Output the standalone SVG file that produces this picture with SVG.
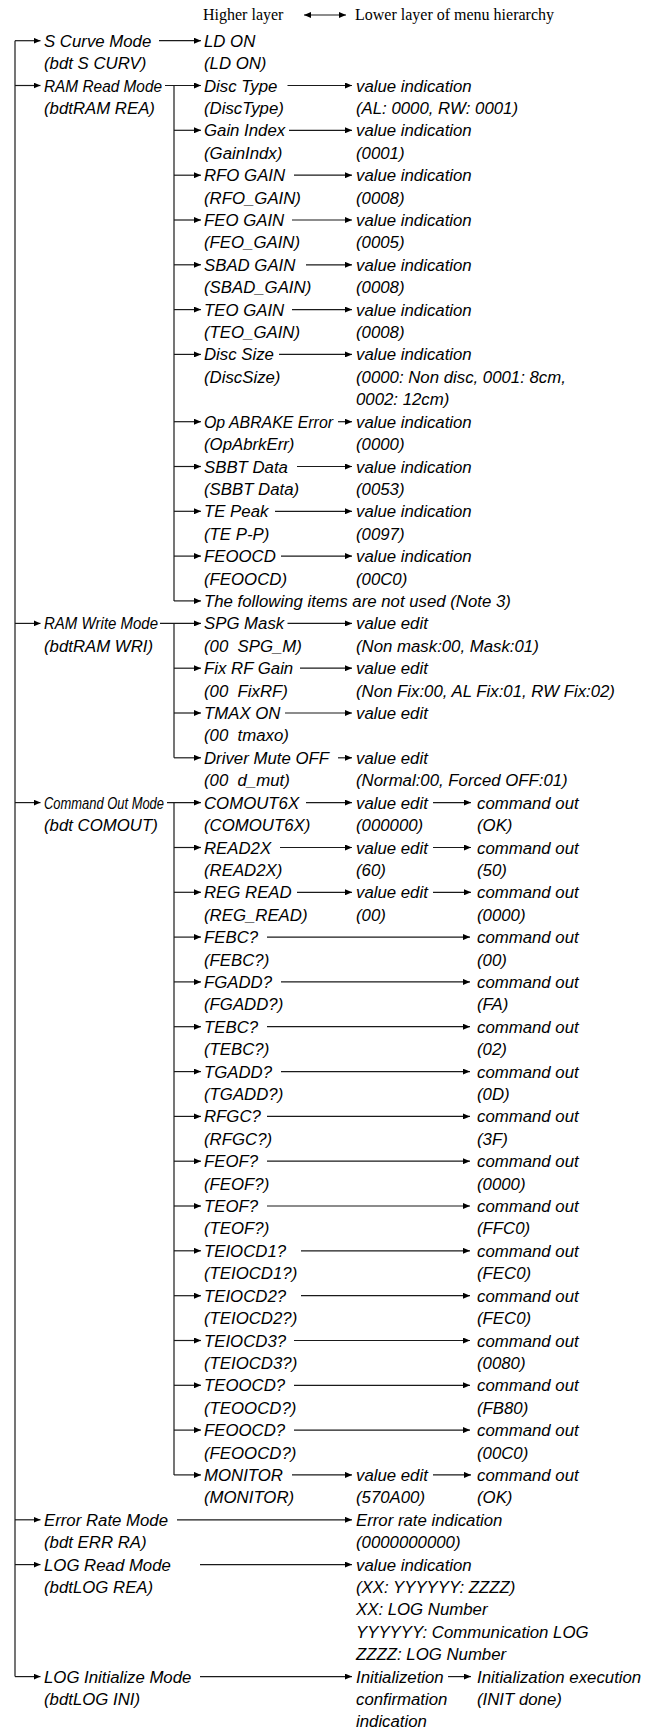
<svg xmlns="http://www.w3.org/2000/svg" width="646" height="1728" viewBox="0 0 646 1728">
<style>
text{font-family:"Liberation Sans",Arial,sans-serif;font-style:italic;font-size:16.8px;fill:#000}
text.h{font-family:"Liberation Serif","Times New Roman",serif;font-style:normal;font-size:16px}
.c path{stroke:#1a1a1a;stroke-width:1.2;fill:none}
.c path.a{marker-end:url(#ah)}
.c path.d{marker-start:url(#ah);marker-end:url(#ah)}
</style>
<defs>
<marker id="ah" markerUnits="userSpaceOnUse" markerWidth="8" markerHeight="6" refX="7" refY="3" orient="auto-start-reverse"><path d="M0,0 L7,3 L0,6 z" fill="#000"/></marker>
</defs>
<rect width="646" height="1728" fill="#fff"/>

<g id="legend">
<text class="h" x="203" y="20">Higher layer</text>
<text class="h" x="355" y="20">Lower layer of menu hierarchy</text>
</g>

<g class="c" id="connectors">
<path class="d" d="M304,15 H346"/>
<!-- level-1 trunk -->
<path d="M15,40.7 V1676.6"/>
<path class="a" d="M15,40.7 H40.5"/>
<path class="a" d="M15,85.5 H40.5"/>
<path class="a" d="M15,623.4 H40.5"/>
<path class="a" d="M15,802.6 H40.5"/>
<path class="a" d="M15,1519.8 H40.5"/>
<path class="a" d="M15,1564.6 H40.5"/>
<path class="a" d="M15,1676.6 H40.5"/>
<!-- S curve -->
<path class="a" d="M159,40.7 H201"/>
<!-- RAM Read trunk -->
<path d="M174,85.5 V600.9"/>
<path class="a" d="M165,85.5 H201"/>
<path class="a" d="M174,130.3 H201"/>
<path class="a" d="M174,175.2 H201"/>
<path class="a" d="M174,220.0 H201"/>
<path class="a" d="M174,264.8 H201"/>
<path class="a" d="M174,309.6 H201"/>
<path class="a" d="M174,354.4 H201"/>
<path class="a" d="M174,421.7 H201"/>
<path class="a" d="M174,466.5 H201"/>
<path class="a" d="M174,511.3 H201"/>
<path class="a" d="M174,556.1 H201"/>
<path class="a" d="M174,600.9 H201"/>
<path class="a" d="M287.5,85.5 H352"/>
<path class="a" d="M289,130.3 H352"/>
<path class="a" d="M294,175.2 H352"/>
<path class="a" d="M292,220.0 H352"/>
<path class="a" d="M306,264.8 H352"/>
<path class="a" d="M292,309.6 H352"/>
<path class="a" d="M279,354.4 H352"/>
<path class="a" d="M338,421.7 H352"/>
<path class="a" d="M297,466.5 H352"/>
<path class="a" d="M275,511.3 H352"/>
<path class="a" d="M281,556.1 H352"/>
<!-- RAM Write trunk -->
<path d="M174,623.4 V757.8"/>
<path class="a" d="M160,623.4 H201"/>
<path class="a" d="M174,668.2 H201"/>
<path class="a" d="M174,713.0 H201"/>
<path class="a" d="M174,757.8 H201"/>
<path class="a" d="M287.5,623.4 H352"/>
<path class="a" d="M300,668.2 H352"/>
<path class="a" d="M285,713.0 H352"/>
<path class="a" d="M338,757.8 H352"/>
<!-- Command Out trunk -->
<path d="M174,802.6 V1474.9"/>
<path class="a" d="M167,802.6 H201"/>
<path class="a" d="M174,847.5 H201"/>
<path class="a" d="M174,892.3 H201"/>
<path class="a" d="M174,937.1 H201"/>
<path class="a" d="M174,981.9 H201"/>
<path class="a" d="M174,1026.7 H201"/>
<path class="a" d="M174,1071.6 H201"/>
<path class="a" d="M174,1116.4 H201"/>
<path class="a" d="M174,1161.2 H201"/>
<path class="a" d="M174,1206.0 H201"/>
<path class="a" d="M174,1250.8 H201"/>
<path class="a" d="M174,1295.7 H201"/>
<path class="a" d="M174,1340.5 H201"/>
<path class="a" d="M174,1385.3 H201"/>
<path class="a" d="M174,1430.1 H201"/>
<path class="a" d="M174,1474.9 H201"/>
<path class="a" d="M306,802.6 H352"/>
<path class="a" d="M280,847.5 H352"/>
<path class="a" d="M297,892.3 H352"/>
<path class="a" d="M292,1474.9 H352"/>
<path class="a" d="M433,802.6 H471"/>
<path class="a" d="M433,847.5 H471"/>
<path class="a" d="M433,892.3 H471"/>
<path class="a" d="M433,1474.9 H471"/>
<path class="a" d="M267,937.1 H470"/>
<path class="a" d="M281,981.9 H470"/>
<path class="a" d="M267,1026.7 H470"/>
<path class="a" d="M281,1071.6 H470"/>
<path class="a" d="M267,1116.4 H470"/>
<path class="a" d="M267,1161.2 H470"/>
<path class="a" d="M267,1206.0 H470"/>
<path class="a" d="M301,1250.8 H470"/>
<path class="a" d="M301,1295.7 H470"/>
<path class="a" d="M294,1340.5 H470"/>
<path class="a" d="M294,1385.3 H470"/>
<path class="a" d="M294,1430.1 H470"/>
<!-- last modes -->
<path class="a" d="M177,1519.8 H352"/>
<path class="a" d="M200,1564.6 H352"/>
<path class="a" d="M200,1676.6 H352"/>
<path class="a" d="M448,1676.6 H471"/>
</g>

<!-- Level 1 -->
<g id="scurve"><text x="44" y="46.7">S Curve Mode</text><text x="44" y="69.1">(bdt S CURV)</text></g>
<g id="ramread"><text x="44" y="91.5" textLength="118" lengthAdjust="spacingAndGlyphs">RAM Read Mode</text><text x="44" y="113.9">(bdtRAM REA)</text></g>
<g id="ramwrite"><text x="44" y="629.4" textLength="114" lengthAdjust="spacingAndGlyphs">RAM Write Mode</text><text x="44" y="651.8">(bdtRAM WRI)</text></g>
<g id="comout"><text x="44" y="808.6" textLength="120" lengthAdjust="spacingAndGlyphs">Command Out Mode</text><text x="44" y="831.0">(bdt COMOUT)</text></g>
<g id="errrate"><text x="44" y="1525.8">Error Rate Mode</text><text x="44" y="1548.2">(bdt ERR RA)</text></g>
<g id="logread"><text x="44" y="1570.6">LOG Read Mode</text><text x="44" y="1593.0">(bdtLOG REA)</text></g>
<g id="loginit"><text x="44" y="1682.6">LOG Initialize Mode</text><text x="44" y="1705.0">(bdtLOG INI)</text></g>

<!-- Level 2 -->
<g id="ldon"><text x="204" y="46.7">LD ON</text><text x="204" y="69.1">(LD ON)</text></g>
<g id="disctype"><text x="204" y="91.5">Disc Type</text><text x="204" y="113.9">(DiscType)</text></g>
<g id="gainindex"><text x="204" y="136.3">Gain Index</text><text x="204" y="158.8">(GainIndx)</text></g>
<g id="rfogain"><text x="204" y="181.2">RFO GAIN</text><text x="204" y="203.6">(RFO_GAIN)</text></g>
<g id="feogain"><text x="204" y="226.0">FEO GAIN</text><text x="204" y="248.4">(FEO_GAIN)</text></g>
<g id="sbadgain"><text x="204" y="270.8">SBAD GAIN</text><text x="204" y="293.2">(SBAD_GAIN)</text></g>
<g id="teogain"><text x="204" y="315.6">TEO GAIN</text><text x="204" y="338.0">(TEO_GAIN)</text></g>
<g id="discsize"><text x="204" y="360.4">Disc Size</text><text x="204" y="382.8">(DiscSize)</text></g>
<g id="opabrake"><text x="204" y="427.7" textLength="129" lengthAdjust="spacingAndGlyphs">Op ABRAKE Error</text><text x="204" y="450.1">(OpAbrkErr)</text></g>
<g id="sbbt"><text x="204" y="472.5">SBBT Data</text><text x="204" y="494.9">(SBBT Data)</text></g>
<g id="tepeak"><text x="204" y="517.3">TE Peak</text><text x="204" y="539.7">(TE P-P)</text></g>
<g id="feoocd"><text x="204" y="562.1">FEOOCD</text><text x="204" y="584.5">(FEOOCD)</text></g>
<g id="notused"><text x="204" y="606.9">The following items are not used (Note 3)</text></g>
<g id="spgmask"><text x="204" y="629.4">SPG Mask</text><text x="204" y="651.8">(00&#160; SPG_M)</text></g>
<g id="fixrf"><text x="204" y="674.2">Fix RF Gain</text><text x="204" y="696.6">(00&#160; FixRF)</text></g>
<g id="tmaxon"><text x="204" y="719.0">TMAX ON</text><text x="204" y="741.4">(00&#160; tmaxo)</text></g>
<g id="drvmute"><text x="204" y="763.8">Driver Mute OFF</text><text x="204" y="786.2">(00&#160; d_mut)</text></g>
<g id="comout6x"><text x="204" y="808.6">COMOUT6X</text><text x="204" y="831.0">(COMOUT6X)</text></g>
<g id="read2x"><text x="204" y="853.5">READ2X</text><text x="204" y="875.9">(READ2X)</text></g>
<g id="regread"><text x="204" y="898.3">REG READ</text><text x="204" y="920.7">(REG_READ)</text></g>
<g id="febc"><text x="204" y="943.1">FEBC?</text><text x="204" y="965.5">(FEBC?)</text></g>
<g id="fgadd"><text x="204" y="987.9">FGADD?</text><text x="204" y="1010.3">(FGADD?)</text></g>
<g id="tebc"><text x="204" y="1032.7">TEBC?</text><text x="204" y="1055.1">(TEBC?)</text></g>
<g id="tgadd"><text x="204" y="1077.6">TGADD?</text><text x="204" y="1100.0">(TGADD?)</text></g>
<g id="rfgc"><text x="204" y="1122.4">RFGC?</text><text x="204" y="1144.8">(RFGC?)</text></g>
<g id="feof"><text x="204" y="1167.2">FEOF?</text><text x="204" y="1189.6">(FEOF?)</text></g>
<g id="teof"><text x="204" y="1212.0">TEOF?</text><text x="204" y="1234.4">(TEOF?)</text></g>
<g id="teiocd1"><text x="204" y="1256.8">TEIOCD1?</text><text x="204" y="1279.2">(TEIOCD1?)</text></g>
<g id="teiocd2"><text x="204" y="1301.7">TEIOCD2?</text><text x="204" y="1324.1">(TEIOCD2?)</text></g>
<g id="teiocd3"><text x="204" y="1346.5">TEIOCD3?</text><text x="204" y="1368.9">(TEIOCD3?)</text></g>
<g id="teoocd"><text x="204" y="1391.3">TEOOCD?</text><text x="204" y="1413.7">(TEOOCD?)</text></g>
<g id="feoocdq"><text x="204" y="1436.1">FEOOCD?</text><text x="204" y="1458.5">(FEOOCD?)</text></g>
<g id="monitor"><text x="204" y="1480.9">MONITOR</text><text x="204" y="1503.3">(MONITOR)</text></g>

<!-- Level 3 -->
<g id="v-disctype"><text x="356" y="91.5">value indication</text><text x="356" y="113.9">(AL: 0000, RW: 0001)</text></g>
<g id="v-gainindex"><text x="356" y="136.3">value indication</text><text x="356" y="158.8">(0001)</text></g>
<g id="v-rfogain"><text x="356" y="181.2">value indication</text><text x="356" y="203.6">(0008)</text></g>
<g id="v-feogain"><text x="356" y="226.0">value indication</text><text x="356" y="248.4">(0005)</text></g>
<g id="v-sbadgain"><text x="356" y="270.8">value indication</text><text x="356" y="293.2">(0008)</text></g>
<g id="v-teogain"><text x="356" y="315.6">value indication</text><text x="356" y="338.0">(0008)</text></g>
<g id="v-discsize"><text x="356" y="360.4">value indication</text><text x="356" y="382.8">(0000: Non disc, 0001: 8cm,</text><text x="356" y="405.3">0002: 12cm)</text></g>
<g id="v-opabrake"><text x="356" y="427.7">value indication</text><text x="356" y="450.1">(0000)</text></g>
<g id="v-sbbt"><text x="356" y="472.5">value indication</text><text x="356" y="494.9">(0053)</text></g>
<g id="v-tepeak"><text x="356" y="517.3">value indication</text><text x="356" y="539.7">(0097)</text></g>
<g id="v-feoocd"><text x="356" y="562.1">value indication</text><text x="356" y="584.5">(00C0)</text></g>
<g id="v-spgmask"><text x="356" y="629.4">value edit</text><text x="356" y="651.8">(Non mask:00, Mask:01)</text></g>
<g id="v-fixrf"><text x="356" y="674.2">value edit</text><text x="356" y="696.6">(Non Fix:00, AL Fix:01, RW Fix:02)</text></g>
<g id="v-tmaxon"><text x="356" y="719.0">value edit</text></g>
<g id="v-drvmute"><text x="356" y="763.8">value edit</text><text x="356" y="786.2">(Normal:00, Forced OFF:01)</text></g>
<g id="v-comout6x"><text x="356" y="808.6">value edit</text><text x="356" y="831.0">(000000)</text></g>
<g id="v-read2x"><text x="356" y="853.5">value edit</text><text x="356" y="875.9">(60)</text></g>
<g id="v-regread"><text x="356" y="898.3">value edit</text><text x="356" y="920.7">(00)</text></g>
<g id="v-monitor"><text x="356" y="1480.9">value edit</text><text x="356" y="1503.3">(570A00)</text></g>
<g id="v-errrate"><text x="356" y="1525.8">Error rate indication</text><text x="356" y="1548.2">(0000000000)</text></g>
<g id="v-logread"><text x="356" y="1570.6">value indication</text><text x="356" y="1593.0">(XX: YYYYYY: ZZZZ)</text><text x="356" y="1615.4">XX: LOG Number</text><text x="356" y="1637.8">YYYYYY: Communication LOG</text><text x="356" y="1660.2">ZZZZ: LOG Number</text></g>
<g id="v-loginit"><text x="356" y="1682.6">Initializetion</text><text x="356" y="1705.0">confirmation</text><text x="356" y="1727.2">indication</text></g>

<!-- Level 4 -->
<g id="o-comout6x"><text x="477" y="808.6">command out</text><text x="477" y="831.0">(OK)</text></g>
<g id="o-read2x"><text x="477" y="853.5">command out</text><text x="477" y="875.9">(50)</text></g>
<g id="o-regread"><text x="477" y="898.3">command out</text><text x="477" y="920.7">(0000)</text></g>
<g id="o-febc"><text x="477" y="943.1">command out</text><text x="477" y="965.5">(00)</text></g>
<g id="o-fgadd"><text x="477" y="987.9">command out</text><text x="477" y="1010.3">(FA)</text></g>
<g id="o-tebc"><text x="477" y="1032.7">command out</text><text x="477" y="1055.1">(02)</text></g>
<g id="o-tgadd"><text x="477" y="1077.6">command out</text><text x="477" y="1100.0">(0D)</text></g>
<g id="o-rfgc"><text x="477" y="1122.4">command out</text><text x="477" y="1144.8">(3F)</text></g>
<g id="o-feof"><text x="477" y="1167.2">command out</text><text x="477" y="1189.6">(0000)</text></g>
<g id="o-teof"><text x="477" y="1212.0">command out</text><text x="477" y="1234.4">(FFC0)</text></g>
<g id="o-teiocd1"><text x="477" y="1256.8">command out</text><text x="477" y="1279.2">(FEC0)</text></g>
<g id="o-teiocd2"><text x="477" y="1301.7">command out</text><text x="477" y="1324.1">(FEC0)</text></g>
<g id="o-teiocd3"><text x="477" y="1346.5">command out</text><text x="477" y="1368.9">(0080)</text></g>
<g id="o-teoocd"><text x="477" y="1391.3">command out</text><text x="477" y="1413.7">(FB80)</text></g>
<g id="o-feoocdq"><text x="477" y="1436.1">command out</text><text x="477" y="1458.5">(00C0)</text></g>
<g id="o-monitor"><text x="477" y="1480.9">command out</text><text x="477" y="1503.3">(OK)</text></g>
<g id="o-loginit"><text x="477" y="1682.6">Initialization execution</text><text x="477" y="1705.0">(INIT done)</text></g>
</svg>
